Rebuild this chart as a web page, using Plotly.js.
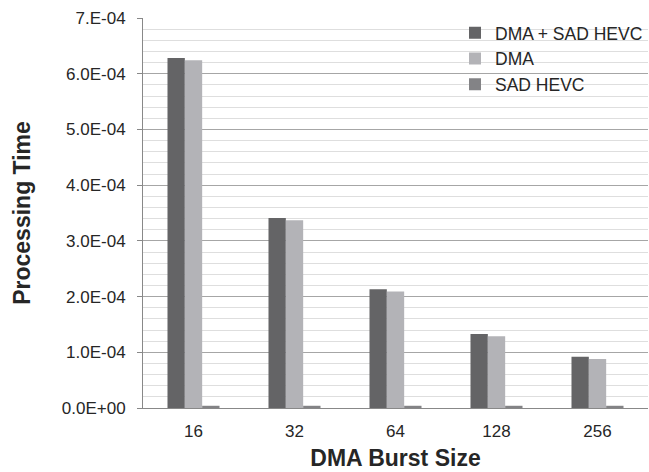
<!DOCTYPE html>
<html>
<head>
<meta charset="utf-8">
<script src="https://cdn.plot.ly/plotly-3.0.1.min.js"></script>
<style>html,body{margin:0;padding:0;background:#fff;}#chart{width:649px;height:472px;}</style>
</head>
<body>
<div id="chart"></div>
<script>
const categories = ['16', '32', '64', '128', '256'];
const dmaSad = [6.28e-4, 3.41e-4, 2.13e-4, 1.33e-4, 0.92e-4];
const dma = [6.24e-4, 3.37e-4, 2.09e-4, 1.29e-4, 0.88e-4];
const sadHevc = [4e-6, 4e-6, 4e-6, 4e-6, 4e-6];
const seriesNames = ['DMA + SAD HEVC', 'DMA', 'SAD HEVC'];
const yTickVals = [0, 1e-4, 2e-4, 3e-4, 4e-4, 5e-4, 6e-4, 7e-4];
const yTickText = ['0.0E+00', '1.0E-04', '2.0E-04', '3.0E-04', '4.0E-04', '5.0E-04', '6.0E-04', '7.E-04'];

const font = "'Liberation Sans', Arial, sans-serif";
const txt = '#262626';
const traces = [
  {type: 'bar', x: categories, y: dmaSad, name: seriesNames[0], marker: {color: '#646466'}},
  {type: 'bar', x: categories, y: dma, name: seriesNames[1], marker: {color: '#b3b3b7'}},
  {type: 'bar', x: categories, y: sadHevc, name: seriesNames[2], marker: {color: '#838386'}}
];
const layout = {
  width: 649, height: 472,
  margin: {l: 143, r: 1, t: 18, b: 64},
  paper_bgcolor: '#fff', plot_bgcolor: '#fff',
  font: {family: font, color: txt},
  barmode: 'group', bargap: 0.485, bargroupgap: 0,
  showlegend: true,
  legend: {x: 1, y: 1.008, xanchor: 'right', yanchor: 'top', bgcolor: 'rgba(0,0,0,0)',
    font: {family: font, size: 17.5, color: txt}, itemwidth: 30, tracegroupgap: 0},
  xaxis: {
    type: 'category', showline: true, linecolor: '#888', linewidth: 1,
    ticks: '', showgrid: false, tickfont: {family: font, size: 17, color: txt},
    ticklabelstandoff: 8,
    title: {text: '<b>DMA Burst Size</b>', font: {family: font, size: 23, color: txt}, standoff: 9}
  },
  yaxis: {
    range: [0, 7e-4], tickvals: yTickVals, ticktext: yTickText,
    showline: true, linecolor: '#888', linewidth: 1,
    ticks: 'outside', ticklen: 5, tickcolor: '#888',
    ticklabelstandoff: 8,
    showgrid: true, gridcolor: '#a6a6a6', gridwidth: 1, zeroline: false,
    tickfont: {family: font, size: 17, color: txt},
    minor: {dtick: 2e-5, showgrid: true, gridcolor: '#dedede', gridwidth: 1, ticks: ''},
    title: {text: '<b>Processing Time</b>', font: {family: font, size: 23, color: txt}, standoff: 24}
  }
};
Plotly.newPlot('chart', traces, layout, {displayModeBar: false, staticPlot: true});
</script>
</body>
</html>
